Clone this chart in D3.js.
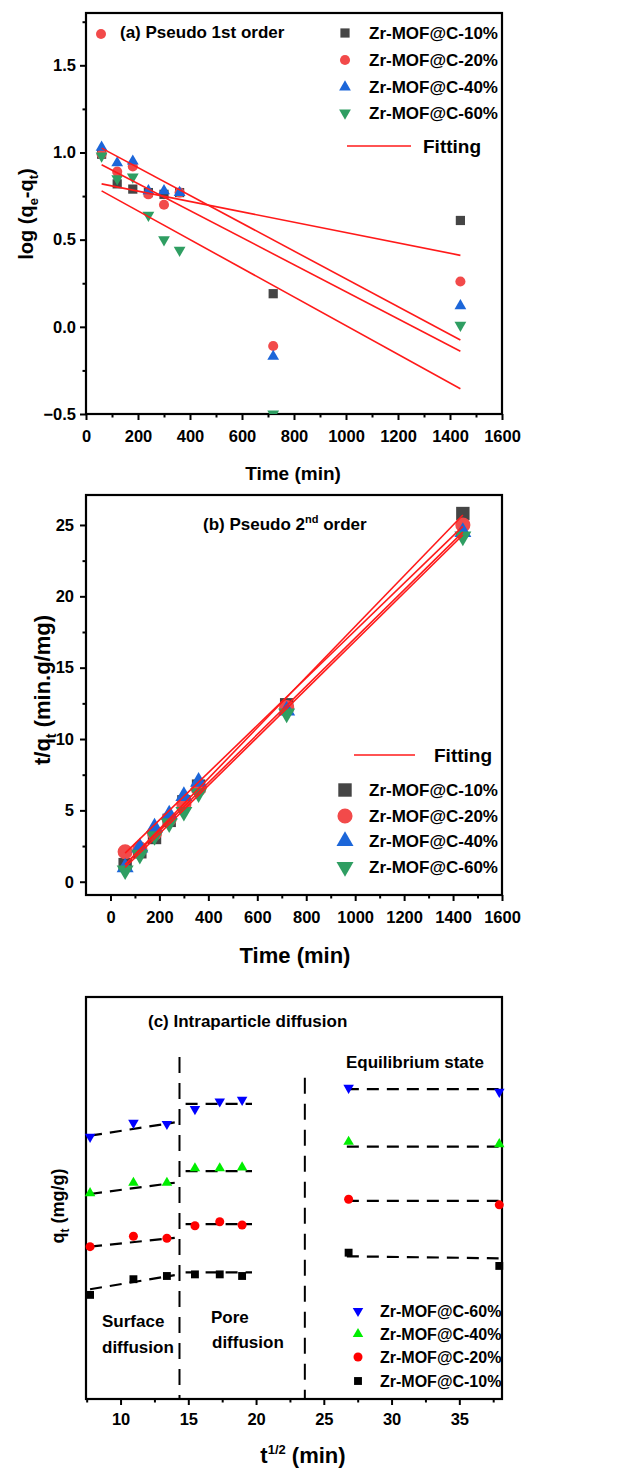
<!DOCTYPE html>
<html>
<head>
<meta charset="utf-8">
<script src="https://cdn.jsdelivr.net/npm/d3@7"></script>
<style>
  body { margin: 0; background: #fff; }
  svg text { font-family: "Liberation Sans", Arial, sans-serif; font-weight: bold; fill: #000; }
</style>
</head>
<body>
<div id="chart"></div>
<script>
var svgWidth = 622;
var svgHeight = 1471;

// ---- data ----
var seriesNames = ["Zr-MOF@C-10%", "Zr-MOF@C-20%", "Zr-MOF@C-40%", "Zr-MOF@C-60%"];
var times = [60, 120, 180, 240, 300, 360, 720, 1440];
var fitTimes = [60, 1440];

// (a) pseudo 1st order: log(qe-qt)
var logA10 = [0.99, 0.82, 0.79, 0.77, 0.76, 0.77, 0.19, 0.61];
var logA20 = [0.99, 0.89, 0.92, 0.76, 0.70, 0.77, -0.11, 0.26];
var logA40 = [1.03, 0.94, 0.95, 0.78, 0.78, 0.77, -0.17, 0.12];
var logA60 = [0.98, 0.85, 0.86, 0.64, 0.50, 0.44, -0.50, 0.01];
var fitA10 = [0.82, 0.41];
var fitA20 = [0.93, -0.14];
var fitA40 = [1.025, -0.076];
var fitA60 = [0.78, -0.355];

// (b) pseudo 2nd order: t/qt
var tq10 = [1.2, 2.1, 3.1, 4.3, 5.6, 6.7, 12.4, 25.8];
var tq20 = [2.1, 2.3, 3.4, 4.4, 5.4, 6.5, 12.2, 25.0];
var tq40 = [1.0, 2.4, 3.8, 4.7, 6.0, 7.0, 12.0, 24.5];
var tq60 = [0.8, 1.9, 3.2, 4.1, 4.9, 6.2, 11.8, 24.2];
var fitB10 = [1.2, 25.7];
var fitB20 = [2.0, 24.9];
var fitB40 = [1.2, 24.5];
var fitB60 = [1.0, 24.3];

// (c) intraparticle diffusion: qt (relative units, no y labels in the figure)
var sqrtT = [7.75, 10.95, 13.42, 15.49, 17.32, 18.97, 26.83, 37.95];
var qc10 = [25.9, 29.8, 30.6, 31.0, 31.0, 30.6, 36.4, 33.1];
var qc20 = [37.9, 40.5, 40.0, 43.1, 44.1, 43.3, 49.7, 48.3];
var qc40 = [51.2, 53.8, 53.8, 57.4, 57.4, 57.6, 64.0, 63.4];
var qc60 = [65.2, 68.7, 68.4, 72.1, 74.0, 74.4, 77.4, 76.4];
var segX = [[7.75, 14.0], [14.8, 19.7], [26.7, 37.9]];
var segC10 = [[27.3, 30.8], [31.5, 31.5], [35.5, 35.0]];
var segC20 = [[37.9, 40.1], [43.5, 43.5], [49.3, 49.3]];
var segC40 = [[51.0, 53.8], [56.7, 56.7], [62.8, 62.8]];
var segC60 = [[65.5, 68.8], [73.4, 73.4], [77.1, 77.1]];
var dividerX = [14.35, 23.6];
var dividerTop = [85.1, 79.9];

// ticks
var aXTicks = [0, 200, 400, 600, 800, 1000, 1200, 1400, 1600];
var aYTicks = [-0.5, 0, 0.5, 1.0, 1.5];
var bXTicks = [0, 200, 400, 600, 800, 1000, 1200, 1400, 1600];
var bYTicks = [0, 5, 10, 15, 20, 25];
var cXTicks = [10, 15, 20, 25, 30, 35];

var left = 86, right = 502;

var svg = d3.select("#chart")
  .append("svg")
  .attr("width", svgWidth)
  .attr("height", svgHeight);

function sym(type, size) {
  return d3.symbol().type(type).size(size)();
}

// draw axes + frame for one panel
function drawAxes(x, y, top, bottom, xTicks, xMinor, yTicks, yMinor, yFormat, xPad, yPad) {
  svg.append("g")
    .attr("transform", `translate(0, ${bottom})`)
    .call(d3.axisBottom(x).tickValues(xTicks).tickSize(6).tickSizeOuter(0)
      .tickPadding(xPad).tickFormat(d3.format("d")));
  svg.append("g")
    .attr("transform", `translate(0, ${bottom})`)
    .call(d3.axisBottom(x).tickValues(xMinor).tickSize(3.5).tickSizeOuter(0).tickFormat(""));
  if (yTicks) {
    svg.append("g")
      .attr("transform", `translate(${left}, 0)`)
      .call(d3.axisLeft(y).tickValues(yTicks).tickSize(6).tickSizeOuter(0).tickPadding(yPad).tickFormat(yFormat));
    svg.append("g")
      .attr("transform", `translate(${left}, 0)`)
      .call(d3.axisLeft(y).tickValues(yMinor).tickSize(3.5).tickSizeOuter(0).tickFormat(""));
  }
  svg.selectAll(".domain").remove();
  svg.selectAll(".tick line").attr("stroke", "#000").attr("stroke-width", 2);
  svg.selectAll(".tick text").style("font-size", "16.5px");

  svg.append("rect")
    .attr("x", left)
    .attr("y", top)
    .attr("width", right - left)
    .attr("height", bottom - top)
    .attr("fill", "none")
    .attr("stroke", "#000")
    .attr("stroke-width", 2.2);
}

function drawMarkers(g, x, y, xs, ys, type, size, color, flip) {
  g.selectAll(null)
    .data(ys)
    .enter()
    .append("path")
    .attr("d", sym(type, size))
    .attr("transform", (d, i) => `translate(${x(xs[i])}, ${y(d)})` + (flip ? " rotate(180)" : ""))
    .attr("fill", color);
}

var shapes = [d3.symbolSquare, d3.symbolCircle, d3.symbolTriangle, d3.symbolTriangle];
var flips = [false, false, false, true];
var colorsAB = ["#454545", "#f24a4a", "#1c66d9", "#2f9e62"];

// ================= (a) =================
var aTop = 13, aBottom = 414;
var xA = d3.scaleLinear().domain([0, 1600]).range([left, right]);
var yA = d3.scaleLinear().domain([-0.5, 1.8]).range([aBottom, aTop]);

drawAxes(xA, yA, aTop, aBottom, aXTicks, d3.range(100, 1600, 200),
  aYTicks, [-0.25, 0.25, 0.75, 1.25, 1.75], d3.format(".1f"), 10, 4);

svg.append("clipPath").attr("id", "clipA")
  .append("rect").attr("x", left).attr("y", aTop).attr("width", right - left).attr("height", aBottom - aTop);

var gA = svg.append("g").attr("clip-path", "url(#clipA)");
var aSeries = [logA10, logA20, logA40, logA60];
var aSizes = [85, 80, 60, 60];
aSeries.forEach(function(s, i) {
  drawMarkers(gA, xA, yA, times, s, shapes[i], aSizes[i], colorsAB[i], flips[i]);
});
var lineA = d3.line().x((d, i) => xA(fitTimes[i])).y(d => yA(d));
[fitA10, fitA20, fitA40, fitA60].forEach(function(f) {
  gA.append("path").datum(f).attr("d", lineA)
    .attr("fill", "none").attr("stroke", "#ff1a1a").attr("stroke-width", 1.6);
});

// title (a)
svg.append("circle").attr("cx", 101).attr("cy", 34).attr("r", 5).attr("fill", "#f24a4a");
svg.append("text").attr("x", 120).attr("y", 38).style("font-size", "17px").text("(a) Pseudo 1st order");

// legend (a)
var aRows = [33, 60, 87, 113];
seriesNames.forEach(function(name, i) {
  svg.append("path")
    .attr("d", sym(shapes[i], aSizes[i]))
    .attr("transform", `translate(345, ${aRows[i]})` + (flips[i] ? " rotate(180)" : ""))
    .attr("fill", colorsAB[i]);
  svg.append("text").attr("x", 369).attr("y", aRows[i] + 6).style("font-size", "17px").text(name);
});
svg.append("line").attr("x1", 347).attr("x2", 411).attr("y1", 146).attr("y2", 146)
  .attr("stroke", "#ff1a1a").attr("stroke-width", 1.6);
svg.append("text").attr("x", 423).attr("y", 153).style("font-size", "19px").text("Fitting");

// axis titles (a)
svg.append("text").attr("x", 293).attr("y", 480).attr("text-anchor", "middle")
  .style("font-size", "19px").text("Time (min)");
var yTitleA = svg.append("text")
  .attr("transform", "translate(33, 214) rotate(-90)")
  .attr("text-anchor", "middle")
  .style("font-size", "20px");
yTitleA.append("tspan").text("log (q");
yTitleA.append("tspan").attr("dy", 5).style("font-size", "13px").text("e");
yTitleA.append("tspan").attr("dy", -5).text("-q");
yTitleA.append("tspan").attr("dy", 5).style("font-size", "13px").text("t");
yTitleA.append("tspan").attr("dy", -5).text(")");

// ================= (b) =================
var bTop = 495, bBottom = 895;
var xB = d3.scaleLinear().domain([-100, 1600]).range([left, right]);
var yB = d3.scaleLinear().domain([-0.93, 27.1]).range([bBottom, bTop]);

drawAxes(xB, yB, bTop, bBottom, bXTicks, d3.range(100, 1600, 200),
  bYTicks, [2.5, 7.5, 12.5, 17.5, 22.5], d3.format("d"), 10, 6);

var gB = svg.append("g");
var bSeries = [tq10, tq20, tq40, tq60];
var bSizes = [180, 180, 125, 125];
bSeries.forEach(function(s, i) {
  drawMarkers(gB, xB, yB, times, s, shapes[i], bSizes[i], colorsAB[i], flips[i]);
});
var lineB = d3.line().x((d, i) => xB(fitTimes[i])).y(d => yB(d));
[fitB10, fitB20, fitB40, fitB60].forEach(function(f) {
  gB.append("path").datum(f).attr("d", lineB)
    .attr("fill", "none").attr("stroke", "#ff1a1a").attr("stroke-width", 1.6);
});

var titleB = svg.append("text").attr("x", 203).attr("y", 530).style("font-size", "17px");
titleB.append("tspan").text("(b) Pseudo 2");
titleB.append("tspan").attr("dy", -7).style("font-size", "11px").text("nd");
titleB.append("tspan").attr("dy", 7).text(" order");

// legend (b)
svg.append("line").attr("x1", 354).attr("x2", 415).attr("y1", 755).attr("y2", 755)
  .attr("stroke", "#ff1a1a").attr("stroke-width", 1.6);
svg.append("text").attr("x", 434).attr("y", 762).style("font-size", "19px").text("Fitting");
var bRows = [790, 816, 841, 867];
seriesNames.forEach(function(name, i) {
  svg.append("path")
    .attr("d", sym(shapes[i], bSizes[i]))
    .attr("transform", `translate(345, ${bRows[i]})` + (flips[i] ? " rotate(180)" : ""))
    .attr("fill", colorsAB[i]);
  svg.append("text").attr("x", 369).attr("y", bRows[i] + 6).style("font-size", "17px").text(name);
});

svg.append("text").attr("x", 295).attr("y", 963).attr("text-anchor", "middle")
  .style("font-size", "22px").text("Time (min)");
var yTitleB = svg.append("text")
  .attr("transform", "translate(50, 690) rotate(-90)")
  .attr("text-anchor", "middle")
  .style("font-size", "22px");
yTitleB.append("tspan").text("t/q");
yTitleB.append("tspan").attr("dy", 6).style("font-size", "14px").text("t");
yTitleB.append("tspan").attr("dy", -6).text(" (min.g/mg)");

// ================= (c) =================
var cTop = 997, cBottom = 1399;
var xC = d3.scaleLinear().domain([7.45, 38.15]).range([left, right]);
var yC = d3.scaleLinear().domain([0, 100]).range([cBottom, cTop]);

drawAxes(xC, yC, cTop, cBottom, cXTicks, [7.5, 12.5, 17.5, 22.5, 27.5, 32.5, 37.5],
  null, null, null, 8, 0);

var gC = svg.append("g");
// vertical stage dividers
dividerX.forEach(function(dx, i) {
  gC.append("line")
    .attr("x1", xC(dx)).attr("x2", xC(dx))
    .attr("y1", yC(dividerTop[i])).attr("y2", yC(0))
    .attr("stroke", "#000").attr("stroke-width", 2)
    .attr("stroke-dasharray", "16,10");
});

var cSeries = [qc10, qc20, qc40, qc60];
var cSegs = [segC10, segC20, segC40, segC60];
var colorsC = ["#000000", "#ff0000", "#00ee00", "#0000ff"];
var cSizes = [62, 64, 48, 48];
cSegs.forEach(function(segs) {
  segs.forEach(function(s, k) {
    gC.append("line")
      .attr("x1", xC(segX[k][0])).attr("x2", xC(segX[k][1]))
      .attr("y1", yC(s[0])).attr("y2", yC(s[1]))
      .attr("stroke", "#000").attr("stroke-width", 2.2)
      .attr("stroke-dasharray", "12,8");
  });
});
cSeries.forEach(function(s, i) {
  drawMarkers(gC, xC, yC, sqrtT, s, shapes[i], cSizes[i], colorsC[i], flips[i]);
});

svg.append("text").attr("x", 148).attr("y", 1027).style("font-size", "17px").text("(c) Intraparticle diffusion");
svg.append("text").attr("x", 346).attr("y", 1068).style("font-size", "17px").text("Equilibrium state");
svg.append("text").attr("x", 102).attr("y", 1327).style("font-size", "17px").text("Surface");
svg.append("text").attr("x", 102).attr("y", 1353).style("font-size", "17px").text("diffusion");
svg.append("text").attr("x", 211).attr("y", 1323).style("font-size", "17px").text("Pore");
svg.append("text").attr("x", 212).attr("y", 1348).style("font-size", "17px").text("diffusion");

// legend (c): reversed order
var cRows = [1381, 1357, 1334, 1311];
seriesNames.forEach(function(name, i) {
  svg.append("path")
    .attr("d", sym(shapes[i], cSizes[i]))
    .attr("transform", `translate(358, ${cRows[i]})` + (flips[i] ? " rotate(180)" : ""))
    .attr("fill", colorsC[i]);
  svg.append("text").attr("x", 380).attr("y", cRows[i] + 6).style("font-size", "16px").text(name);
});

var xTitleC = svg.append("text").attr("x", 303).attr("y", 1463).attr("text-anchor", "middle")
  .style("font-size", "22px");
xTitleC.append("tspan").text("t");
xTitleC.append("tspan").attr("dy", -9).style("font-size", "13px").text("1/2");
xTitleC.append("tspan").attr("dy", 9).text(" (min)");

var yTitleC = svg.append("text")
  .attr("transform", "translate(64, 1206) rotate(-90)")
  .attr("text-anchor", "middle")
  .style("font-size", "18px");
yTitleC.append("tspan").text("q");
yTitleC.append("tspan").attr("dy", 5).style("font-size", "12px").text("t");
yTitleC.append("tspan").attr("dy", -5).text(" (mg/g)");
</script>
</body>
</html>
